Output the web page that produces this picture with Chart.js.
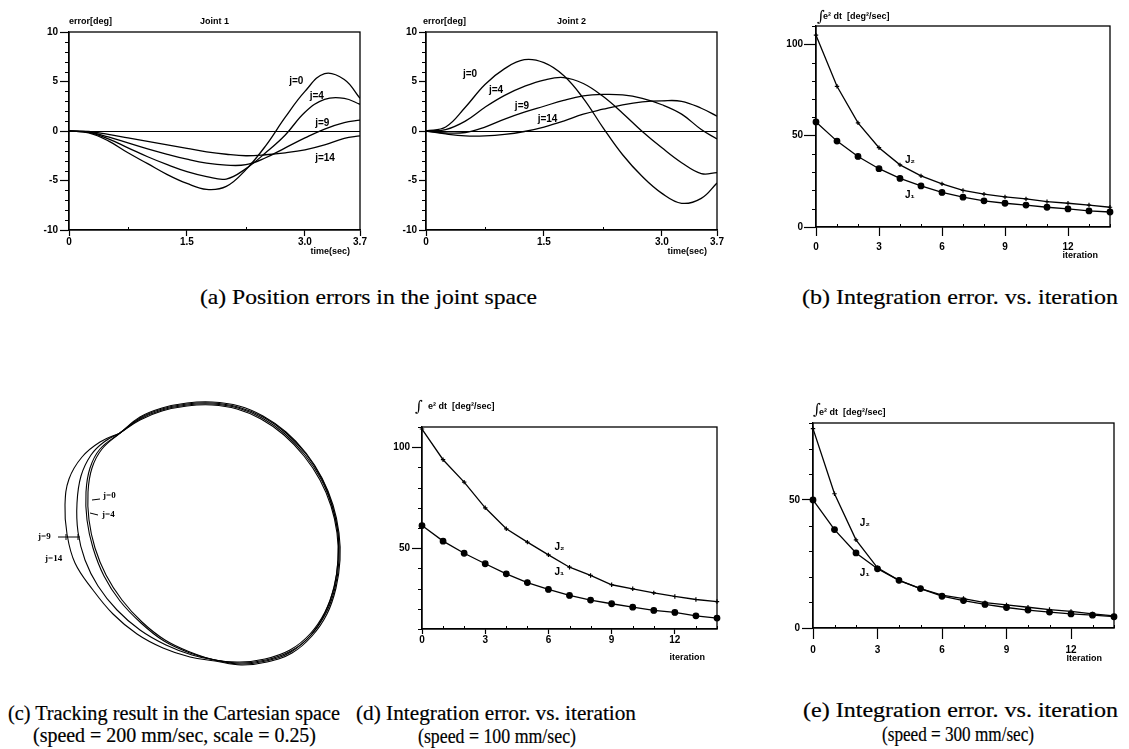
<!DOCTYPE html>
<html><head><meta charset="utf-8">
<script src="https://cdn.jsdelivr.net/npm/chart.js@4.4.0/dist/chart.umd.min.js"></script>
<style>
html,body{margin:0;padding:0;background:#fff;}
body{width:1129px;height:749px;position:relative;overflow:hidden;}
canvas{position:absolute;}
.cap{position:absolute;font-family:'Liberation Serif','Times New Roman',serif;color:#000;white-space:nowrap;line-height:22px;height:22px;transform-origin:0 50%;-webkit-text-stroke:0.2px #000;}
.top{font-size:22px;}
.bot{font-size:20px;}
</style></head><body>
<canvas id="a1" width="350" height="265" style="left:20px;top:0px"></canvas>
<canvas id="a2" width="350" height="265" style="left:375px;top:0px"></canvas>
<canvas id="b" width="369" height="265" style="left:760px;top:0px"></canvas>
<canvas id="c" width="320" height="290" style="left:30px;top:395px"></canvas>
<canvas id="d" width="350" height="280" style="left:380px;top:395px"></canvas>
<canvas id="e" width="369" height="280" style="left:760px;top:395px"></canvas>

<div class="cap top" data-x1="200" data-x2="537" data-y="297">(a) Position errors in the joint space</div>
<div class="cap top" data-x1="802" data-x2="1118" data-y="297">(b) Integration error. vs. iteration</div>
<div class="cap bot" data-x1="8" data-x2="340" data-y="713">(c) Tracking result in the Cartesian space</div>
<div class="cap bot" data-x1="33" data-x2="316" data-y="735">(speed = 200 mm/sec, scale = 0.25)</div>
<div class="cap bot" data-x1="356" data-x2="636" data-y="713">(d) Integration error. vs. iteration</div>
<div class="cap bot" data-x1="418" data-x2="576" data-y="736">(speed = 100 mm/sec)</div>
<div class="cap bot" data-x1="803" data-x2="1118" data-y="710">(e) Integration error. vs. iteration</div>
<div class="cap bot" data-x1="882" data-x2="1034" data-y="734">(speed = 300 mm/sec)</div>

<script>
// ---------- DATA ----------
// (a) position errors, joint 1 & joint 2 [deg] vs time [sec]
const timeSec = [0,0.25,0.5,0.75,1.0,1.25,1.5,1.75,2.0,2.25,2.5,2.75,3.0,3.25,3.5,3.7];
const joint1_j0  = [0,-0.2,-1.0,-2.2,-3.3,-4.4,-5.3,-5.9,-5.6,-3.9,-1.5,1.4,4.0,5.8,5.2,3.3];
const joint1_j4  = [0,-0.15,-0.8,-1.7,-2.6,-3.4,-4.1,-4.6,-4.85,-3.8,-2.2,-0.4,1.9,3.2,3.3,2.7];
const joint1_j9  = [0,-0.1,-0.6,-1.2,-1.8,-2.35,-2.85,-3.25,-3.45,-3.4,-2.7,-1.7,-0.7,0.2,0.85,1.1];
const joint1_j14 = [0,-0.05,-0.35,-0.7,-1.05,-1.4,-1.75,-2.1,-2.35,-2.5,-2.4,-2.2,-1.9,-1.4,-0.75,-0.5];
const joint2_j0  = [0,0.4,2.4,4.7,6.3,7.2,6.9,5.6,3.3,0.35,-2.4,-4.6,-6.3,-7.3,-6.8,-5.25];
const joint2_j4  = [0,0.15,1.0,2.4,3.6,4.5,5.15,5.4,4.8,3.5,1.8,-0.05,-1.7,-3.2,-4.3,-4.2];
const joint2_j9  = [0,-0.2,-0.15,0.4,1.2,1.9,2.5,3.1,3.55,3.7,3.65,3.3,2.65,1.7,0.15,-0.8];
const joint2_j14 = [0,-0.3,-0.5,-0.5,-0.35,-0.05,0.4,1.0,1.7,2.2,2.65,2.95,3.05,3.0,2.3,1.5];
const jointXTicks = [0,1.5,3.0,3.7];
const jointXLabels = ['0','1.5','3.0','3.7'];
const jointYTicks = [-10,-5,0,5,10];
const jointYLabels = ['-10','-5','0','5','10'];

// iteration-error plots
const iterations = [0,1,2,3,4,5,6,7,8,9,10,11,12,13,14];
const iterXTicks = [0,3,6,9,12];
const iterXLabels = ['0','3','6','9','12'];
// (b) speed 200 mm/sec
const b_J1 = [57.5,47,38.6,31.9,26.6,22.5,18.9,16.3,14.3,13,12,10.8,9.9,8.8,8.2];
const b_J2 = [105,77,57,43.4,34,28,23.6,20,18,16.5,15.4,13.9,13,12,10.8];
// (d) speed 100 mm/sec
const d_J1 = [61.2,53.5,47.5,42.3,37.3,33,29.6,26.6,24.3,22.5,20.8,19.2,18.2,16.5,15.4];
const d_J2 = [109,93.8,82.7,70,59.6,53,46.7,40.6,36.5,31.9,29.9,27.9,26.1,24.6,23.6];
// (e) speed 300 mm/sec
const e_J1 = [50,38.4,29.3,23.1,18.6,15.4,12.4,10.7,9.2,8,7,6.2,5.5,5,4.4];
const e_J2 = [77.8,52.4,34.4,23.5,18.6,15.4,12.8,11.5,9.9,9,8.1,7.2,6.5,5.5,4.7];

// (c) Cartesian tracking paths (x, y)
const path_j0_x  = [-80,-60,-38,-13,12,37,61,84,104,120,131,137,138,134,125,110,90,65,40,15,-10,-35,-58,-78,-94,-105,-111,-112,-108,-98,-80];
const path_j0_y  = [102,115,124,129,130,126,116,100,79,55,29,2,-25,-52,-77,-99,-115,-124,-127,-125,-117,-105,-87,-65,-40,-13,15,43,67,86,102];
const path_j4_x  = [-80,-60,-38,-13,12,38,62,85,105,121,132,138,138,134,125,111,91,66,40,15,-10,-36,-59,-80,-96,-107,-113,-114,-110,-100,-80];
const path_j4_y  = [102,116,125,130,131,127,117,101,80,56,29,2,-25,-53,-78,-100,-116,-125,-128,-125,-118,-106,-88,-66,-41,-13,15,43,67,86,102];
const path_j9_x  = [-80,-60,-38,-13,12,38,63,86,106,122,132,138,139,135,126,111,91,66,40,15,-8,-34,-60,-83,-102,-115,-122,-123,-119,-109,-96,-80];
const path_j9_y  = [102,117,126,131,132,128,118,102,81,56,30,2,-25,-53,-78,-100,-117,-126,-129,-125,-120,-110,-95,-75,-51,-25,3,32,59,80,93,102];
const path_j14_x = [-80,-60,-38,-13,12,39,63,86,106,122,133,139,140,136,127,112,92,67,41,15,-10,-37,-63,-87,-107,-125,-133,-135,-131,-118,-100,-80];
const path_j14_y = [102,118,127,132,133,129,119,103,82,57,30,2,-25,-53,-79,-101,-118,-127,-130,-126,-122,-113,-99,-79,-55,-28,1,30,56,78,93,102];

// ---------- HELPERS ----------
const SANS = "'Liberation Sans', Arial, sans-serif";
const tickFont = {family: SANS, size: 10, weight: 'bold'};
const noteFont = 'bold 10px ' + SANS;
const smallFont = 'bold 9px ' + SANS;
const intFont = '15px ' + "'DejaVu Serif', serif";

function range(a, b, step, skip) {
  const out = [];
  for (let v = a; v <= b + 1e-9; v += step) if (!skip || !skip(v)) out.push(v);
  return out;
}

function makeDecor(o) {
  return {
    id: 'decor',
    afterDraw(chart) {
      const {ctx, chartArea: a, scales} = chart;
      ctx.save();
      ctx.strokeStyle = '#000'; ctx.fillStyle = '#000';
      if (o.frame) { ctx.lineWidth = 1.3; ctx.strokeRect(a.left, a.top, a.right - a.left, a.bottom - a.top); }
      ctx.lineWidth = 1;
      if (o.minorY) {
        const L = o.minorY.len;
        o.minorY.values.forEach(v => {
          const y = Math.round(scales.y.getPixelForValue(v)) + 0.5;
          ctx.beginPath(); ctx.moveTo(a.left - L, y); ctx.lineTo(a.left, y); ctx.stroke();
        });
      }
      if (o.minorX) {
        const L = o.minorX.len;
        o.minorX.values.forEach(v => {
          const x = Math.round(scales.x.getPixelForValue(v)) + 0.5;
          ctx.beginPath(); ctx.moveTo(x, a.bottom); ctx.lineTo(x, a.bottom - L); ctx.stroke();
        });
      }
      (o.lines || []).forEach(l => {
        ctx.beginPath();
        ctx.moveTo(scales.x.getPixelForValue(l[0]), scales.y.getPixelForValue(l[1]));
        ctx.lineTo(scales.x.getPixelForValue(l[2]), scales.y.getPixelForValue(l[3]));
        ctx.stroke();
      });
      (o.notes || []).forEach(n => {
        let x, y;
        if (n.data) { x = scales.x.getPixelForValue(n.x); y = scales.y.getPixelForValue(n.y); }
        else {
          x = (n.ax === 'right' ? a.right : n.ax === 'center' ? (a.left + a.right) / 2 : a.left) + n.dx;
          y = (n.ay === 'bottom' ? a.bottom : a.top) + n.dy;
        }
        ctx.font = n.font || noteFont;
        ctx.textAlign = n.align || 'left';
        ctx.textBaseline = 'middle';
        ctx.fillText(n.text, x, y);
      });
      ctx.restore();
    }
  };
}

function xy(xs, ys) { return xs.map((x, i) => ({x: x, y: ys[i]})); }

function plotChart(id, p) {
  return new Chart(document.getElementById(id), {
    type: 'line',
    data: {datasets: p.datasets},
    options: {
      responsive: false, animation: false, devicePixelRatio: 1,
      layout: {padding: {left: 0, right: p.padR, top: p.padT, bottom: 0}},
      plugins: {legend: {display: false}, tooltip: {enabled: false}},
      elements: {line: {borderColor: '#000', borderWidth: 1.3, fill: false}, point: {radius: 0}},
      scales: {
        x: {
          type: 'linear', min: p.xMin, max: p.xMax,
          afterFit: s => { s.height = p.xH; },
          afterBuildTicks: s => { s.ticks = p.xTicks.map(v => ({value: v})); },
          ticks: {callback: (v, i) => p.xLabels[i], font: tickFont, color: '#000', padding: p.xPad, maxRotation: 0, minRotation: 0, autoSkip: false},
          grid: {display: true, drawOnChartArea: false, tickLength: p.xTickLen, tickColor: '#000', tickWidth: 1.2},
          border: {display: true, color: '#000', width: 1.3}
        },
        y: {
          type: 'linear', min: p.yMin, max: p.yMax,
          afterFit: s => { s.width = p.yW; },
          afterBuildTicks: s => { s.ticks = p.yTicks.map(v => ({value: v})); },
          ticks: {callback: (v, i) => p.yLabels[i], font: tickFont, color: '#000', padding: p.yPad, autoSkip: false},
          grid: {display: true, drawOnChartArea: !!p.zeroLine,
                 color: c => (c.tick && c.tick.value === 0) ? '#000' : 'rgba(0,0,0,0)',
                 lineWidth: 1, tickLength: p.yTickLen, tickColor: '#000', tickWidth: 1.2},
          border: {display: true, color: '#000', width: 1.3}
        }
      }
    },
    plugins: [makeDecor(p.decor)]
  });
}

function curve(xs, ys) {
  return {data: xy(xs, ys), borderColor: '#000', borderWidth: 1.3, pointRadius: 0, tension: 0.4, fill: false};
}
function iterLine(ys, style) {
  const circle = style === 'circle';
  return {data: xy(iterations, ys), borderColor: '#000', borderWidth: 1.3, tension: 0, fill: false, clip: false,
          pointStyle: circle ? 'circle' : 'cross', pointRadius: circle ? 2.8 : 2.2,
          pointBackgroundColor: '#000', pointBorderColor: '#000', pointBorderWidth: 1.2};
}

const minorJointY = range(-10, 10, 1, v => v % 5 === 0);
const minorIter = range(1, 14, 1, v => v % 3 === 0);

// ---------- (a) Joint 1 ----------
plotChart('a1', {
  datasets: [curve(timeSec, joint1_j0), curve(timeSec, joint1_j4), curve(timeSec, joint1_j9), curve(timeSec, joint1_j14)],
  xMin: 0, xMax: 3.7, xTicks: jointXTicks, xLabels: jointXLabels,
  yMin: -10, yMax: 10, yTicks: jointYTicks, yLabels: jointYLabels,
  padR: 10, padT: 32, xH: 35, yW: 49, xPad: 0, xTickLen: 6, yPad: 2, yTickLen: 9, zeroLine: true,
  decor: {frame: true, minorY: {values: minorJointY, len: 4}, minorX: {values: [0.75, 2.25], len: 3},
    notes: [
      {text: 'error[deg]', ax: 'left', dx: 0, ay: 'top', dy: -10, font: smallFont},
      {text: 'Joint 1', ax: 'center', dx: 0, ay: 'top', dy: -10, font: smallFont, align: 'center'},
      {text: 'time(sec)', ax: 'right', dx: -10, ay: 'bottom', dy: 22, font: smallFont, align: 'right'},
      {text: 'j=0', data: true, x: 2.80, y: 5.0},
      {text: 'j=4', data: true, x: 3.06, y: 3.55},
      {text: 'j=9', data: true, x: 3.13, y: 0.8},
      {text: 'j=14', data: true, x: 3.13, y: -2.75}
    ]}
});

// ---------- (a) Joint 2 ----------
plotChart('a2', {
  datasets: [curve(timeSec, joint2_j0), curve(timeSec, joint2_j4), curve(timeSec, joint2_j9), curve(timeSec, joint2_j14)],
  xMin: 0, xMax: 3.7, xTicks: jointXTicks, xLabels: jointXLabels,
  yMin: -10, yMax: 10, yTicks: jointYTicks, yLabels: jointYLabels,
  padR: 8, padT: 32, xH: 35, yW: 51, xPad: 0, xTickLen: 6, yPad: 2, yTickLen: 7, zeroLine: true,
  decor: {frame: true, minorY: {values: minorJointY, len: 4}, minorX: {values: [0.75, 2.25], len: 3},
    notes: [
      {text: 'error[deg]', ax: 'left', dx: -3, ay: 'top', dy: -10, font: smallFont},
      {text: 'Joint 2', ax: 'center', dx: 0, ay: 'top', dy: -10, font: smallFont, align: 'center'},
      {text: 'time(sec)', ax: 'right', dx: -10, ay: 'bottom', dy: 22, font: smallFont, align: 'right'},
      {text: 'j=0', data: true, x: 0.47, y: 5.7},
      {text: 'j=4', data: true, x: 0.80, y: 4.15},
      {text: 'j=9', data: true, x: 1.13, y: 2.45},
      {text: 'j=14', data: true, x: 1.42, y: 1.2}
    ]}
});

// ---------- (b) ----------
plotChart('b', {
  datasets: [iterLine(b_J2, 'cross'), iterLine(b_J1, 'circle')],
  xMin: 0, xMax: 14, xTicks: iterXTicks, xLabels: iterXLabels,
  yMin: 0, yMax: 110, yTicks: [0, 50, 100], yLabels: ['0', '50', '100'],
  padR: 19, padT: 26, xH: 38, yW: 56, xPad: 5, xTickLen: 9, yPad: 1, yTickLen: 12,
  decor: {frame: true, minorY: {values: range(10, 110, 10, v => v % 50 === 0), len: 4}, minorX: {values: minorIter, len: 3},
    notes: [
      {text: '\u222B', ax: 'left', dx: 1, ay: 'top', dy: -9, font: intFont},
      {text: 'e\u00B2 dt  [deg\u00B2/sec]', ax: 'left', dx: 7, ay: 'top', dy: -9, font: smallFont},
      {text: 'iteration', ax: 'right', dx: -12, ay: 'bottom', dy: 29, font: smallFont, align: 'right'},
      {text: 'J\u2082', data: true, x: 4.24, y: 36.8},
      {text: 'J\u2081', data: true, x: 4.24, y: 17.6}
    ]}
});

// ---------- (d) ----------
plotChart('d', {
  datasets: [iterLine(d_J2, 'cross'), iterLine(d_J1, 'circle')],
  xMin: 0, xMax: 14, xTicks: iterXTicks, xLabels: iterXLabels,
  yMin: 10, yMax: 110, yTicks: [50, 100], yLabels: ['50', '100'],
  padR: 13, padT: 32, xH: 46, yW: 42, xPad: 0, xTickLen: 5, yPad: 2, yTickLen: 10,
  decor: {frame: true, minorY: {values: range(10, 110, 10, v => v % 50 === 0), len: 4}, minorX: {values: minorIter, len: 3},
    notes: [
      {text: '\u222B', ax: 'left', dx: -7, ay: 'top', dy: -20, font: intFont},
      {text: 'e\u00B2 dt  [deg\u00B2/sec]', ax: 'left', dx: 6, ay: 'top', dy: -20, font: smallFont},
      {text: 'iteration', ax: 'right', dx: -12, ay: 'bottom', dy: 29, font: smallFont, align: 'right'},
      {text: 'J\u2082', data: true, x: 6.29, y: 50.3},
      {text: 'J\u2081', data: true, x: 6.29, y: 38}
    ]}
});

// ---------- (e) ----------
plotChart('e', {
  datasets: [iterLine(e_J2, 'cross'), iterLine(e_J1, 'circle')],
  xMin: 0, xMax: 14, xTicks: iterXTicks, xLabels: iterXLabels,
  yMin: 0, yMax: 80, yTicks: [0, 50], yLabels: ['0', '50'],
  padR: 15, padT: 28, xH: 47, yW: 53, xPad: 5, xTickLen: 11, yPad: 2, yTickLen: 11,
  decor: {frame: true, minorY: {values: range(10, 80, 10, v => v % 50 === 0), len: 4}, minorX: {values: minorIter, len: 3},
    notes: [
      {text: '\u222B', ax: 'left', dx: 0, ay: 'top', dy: -13, font: intFont},
      {text: 'e\u00B2 dt  [deg\u00B2/sec]', ax: 'left', dx: 6, ay: 'top', dy: -10, font: smallFont},
      {text: 'Iteration', ax: 'right', dx: -12, ay: 'bottom', dy: 31, font: smallFont, align: 'right'},
      {text: 'J\u2082', data: true, x: 2.18, y: 40.7},
      {text: 'J\u2081', data: true, x: 2.18, y: 21.3}
    ]}
});

// ---------- (c) Cartesian tracking ----------
function pathSet(xs, ys) {
  return {data: xy(xs, ys), showLine: true, borderColor: '#000', borderWidth: 1.1, pointRadius: 0, tension: 0.4, fill: false};
}
const serifNote = "bold 9px 'Liberation Serif', serif";
new Chart(document.getElementById('c'), {
  type: 'scatter',
  data: {datasets: [pathSet(path_j0_x, path_j0_y), pathSet(path_j4_x, path_j4_y), pathSet(path_j9_x, path_j9_y), pathSet(path_j14_x, path_j14_y)]},
  options: {
    responsive: false, animation: false, devicePixelRatio: 1,
    layout: {padding: 0},
    plugins: {legend: {display: false}, tooltip: {enabled: false}},
    scales: {x: {type: 'linear', display: false, min: -170, max: 150}, y: {type: 'linear', display: false, min: -150, max: 140}}
  },
  plugins: [makeDecor({
    lines: [[-108, 35, -100, 36], [-110, 22, -102, 20], [-142, -2, -120, -2], [-134, 1, -134, -5], [-122, 1, -122, -5]],
    notes: [
      {text: 'j=0', data: true, x: -97, y: 39, font: serifNote},
      {text: 'j=4', data: true, x: -98, y: 20, font: serifNote},
      {text: 'j=9', data: true, x: -162, y: -2, font: serifNote},
      {text: 'j=14', data: true, x: -155, y: -24, font: serifNote}
    ]})]
});

// ---------- caption layout ----------
document.querySelectorAll('.cap').forEach(el => {
  const x1 = +el.dataset.x1, x2 = +el.dataset.x2, yc = +el.dataset.y;
  el.style.left = x1 + 'px';
  el.style.top = (yc - 11) + 'px';
  const w = el.getBoundingClientRect().width;
  el.style.transform = 'scaleX(' + ((x2 - x1) / w).toFixed(4) + ')';
});
</script>
</body></html>
